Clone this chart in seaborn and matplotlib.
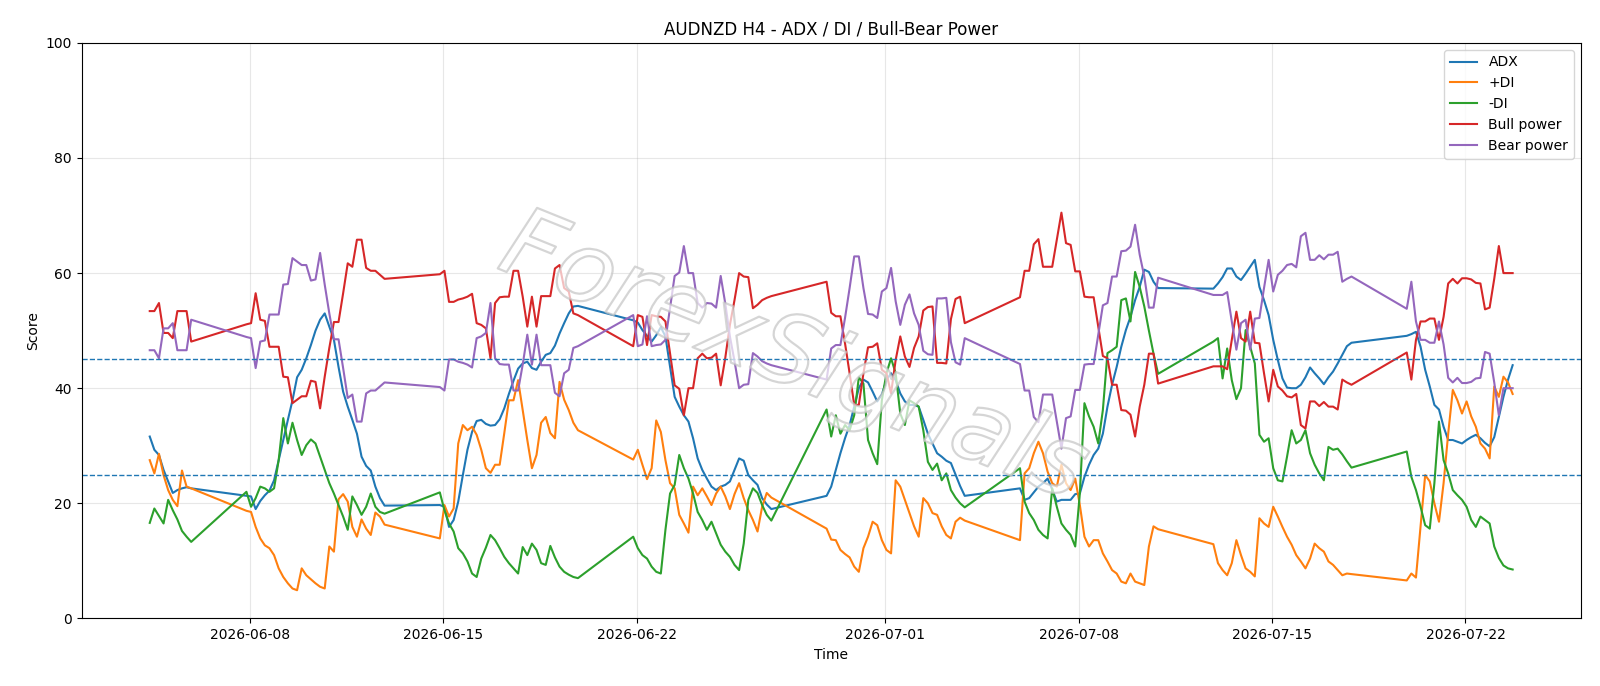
import pandas as pd
import numpy as np
import matplotlib
matplotlib.use("Agg")
import matplotlib.pyplot as plt
import matplotlib.patheffects as pe
import seaborn as sns

# trading sessions (H4 bars, Sunday 21:00 open -> Friday 21:00 close)
SESSIONS = [
    ("2026-06-04 09:00", "2026-06-05 21:00"),
    ("2026-06-07 21:00", "2026-06-12 21:00"),
    ("2026-06-14 21:00", "2026-06-19 21:00"),
    ("2026-06-21 21:00", "2026-06-26 21:00"),
    ("2026-06-28 21:00", "2026-07-03 21:00"),
    ("2026-07-05 21:00", "2026-07-10 21:00"),
    ("2026-07-12 21:00", "2026-07-17 21:00"),
    ("2026-07-19 21:00", "2026-07-23 17:00"),
]

adx = [
    31.6, 29.3, 28.4, 25.8, 23.8, 21.8, 22.3, 22.6, 22.8, 22.6,
    21.3, 21.2, 19.0, 20.4, 21.4, 22.2, 24.0, 27.5, 31.0, 34.5, 37.9, 41.9, 43.2, 45.2, 47.5, 50.0,
    51.9, 53.0, 50.7, 48.4, 43.7, 39.4, 36.8, 34.5, 32.1, 28.1, 26.5, 25.7, 22.9, 20.9, 19.6,
    19.7, 19.4, 15.9, 17.1, 20.3, 24.9, 29.3, 32.4, 34.3, 34.5, 33.8, 33.5, 33.6, 34.6, 36.5, 39.0,
    41.3, 43.4, 44.3, 44.6, 43.5, 43.2, 44.6, 45.8, 46.1, 47.4, 49.5, 51.3, 53.0, 54.2, 54.3,
    51.8, 51.4, 50.1, 49.1, 48.1, 49.2, 50.6, 49.0, 43.7, 38.5, 36.8, 35.3, 34.2, 31.3, 27.8, 25.8,
    24.3, 22.9, 22.3, 22.9, 23.2, 23.8, 25.8, 27.8, 27.4, 24.9, 24.0, 23.2, 20.9, 19.8, 19.0,
    21.3, 22.9, 25.8, 28.7, 31.3, 33.6, 36.8, 40.0, 41.5, 41.0, 39.4, 37.7, 38.9, 41.4, 42.6, 41.4,
    39.1, 37.7, 37.1, 37.1, 36.8, 34.5, 32.1, 30.4, 28.7, 28.1, 27.4, 27.0, 25.0, 23.0, 21.3,
    22.6, 20.6, 20.9, 21.9, 22.9, 23.5, 24.3, 22.4, 20.3, 20.6, 20.6, 20.6, 21.6, 21.7, 24.6, 26.7,
    28.4, 29.5, 32.1, 36.8, 40.6, 43.7, 47.2, 50.1, 52.4, 55.3, 57.6, 60.6, 60.2, 58.5, 57.4,
    57.3, 58.2, 59.3, 60.8, 60.8, 59.4, 58.8, 59.9, 61.1, 62.3, 57.6, 55.3, 52.7, 48.4, 44.9, 41.7,
    40.1, 40.0, 40.0, 40.6, 41.9, 43.6, 42.6, 41.7, 40.7, 41.9, 42.9, 44.3, 45.8, 47.3, 47.9,
    49.1, 49.4, 49.8, 47.2, 43.2, 40.3, 37.1, 36.3, 33.3, 31.0, 31.0, 30.7, 30.4, 31.0, 31.5, 31.9,
    31.3, 30.5, 29.9, 31.5, 35.0, 38.5, 41.5, 44.0,
]

plus_di = [
    27.5, 25.2, 28.6, 24.9, 22.3, 20.6, 19.5, 25.7, 22.9, 22.6,
    18.7, 18.5, 15.9, 13.9, 12.7, 12.2, 11.0, 8.7, 7.2, 6.1, 5.2, 4.9, 8.7, 7.5, 6.8, 6.1,
    5.5, 5.2, 12.5, 11.6, 20.7, 21.6, 20.3, 15.9, 14.2, 17.2, 15.6, 14.5, 18.4, 17.7, 16.3,
    13.9, 19.7, 17.7, 19.1, 30.4, 33.6, 32.7, 33.3, 31.9, 29.3, 26.1, 25.3, 26.7, 26.7, 32.2, 37.9,
    37.9, 41.4, 36.2, 31.0, 26.1, 28.4, 34.0, 35.0, 32.2, 31.3, 41.1, 38.0, 36.2, 34.0, 32.7,
    27.6, 29.3, 26.7, 24.2, 26.1, 34.4, 32.4, 27.5, 23.5, 22.6, 18.0, 16.5, 14.9, 22.9, 21.4, 22.6,
    21.2, 19.7, 21.7, 22.9, 21.2, 19.0, 21.6, 23.5, 20.9, 18.8, 17.1, 15.1, 19.4, 21.8, 21.0,
    15.6, 13.7, 13.6, 11.9, 11.2, 10.6, 9.0, 8.1, 12.2, 14.2, 16.8, 16.2, 13.6, 11.9, 11.3, 24.0,
    22.9, 20.6, 18.3, 16.0, 14.2, 20.9, 20.0, 18.3, 18.0, 16.0, 14.5, 13.9, 16.8, 17.5, 17.0,
    13.6, 25.2, 26.1, 28.7, 30.7, 28.7, 25.5, 23.5, 22.9, 26.7, 23.5, 22.3, 24.3, 19.7, 14.2, 12.5,
    13.6, 13.6, 11.3, 9.9, 8.4, 7.8, 6.4, 6.1, 7.8, 6.4, 6.1, 5.8, 12.5, 16.0, 15.5,
    12.9, 9.6, 8.4, 7.5, 9.6, 13.6, 11.0, 8.7, 8.1, 7.3, 17.4, 16.5, 15.9, 19.4, 17.7, 15.9,
    14.2, 12.8, 11.0, 9.9, 8.7, 10.4, 13.0, 12.2, 11.6, 9.9, 9.3, 8.4, 7.5, 7.8, 7.7,
    6.6, 7.8, 7.1, 15.9, 24.9, 23.8, 20.0, 16.8, 23.5, 32.1, 39.7, 37.9, 35.6, 37.7, 35.1, 33.3,
    30.4, 29.5, 27.8, 40.3, 38.5, 42.0, 41.0, 39.0,
]

minus_di = [
    16.6, 19.1, 17.8, 16.5, 20.6, 18.8, 17.2, 15.2, 14.2, 13.3,
    22.0, 19.4, 20.9, 22.9, 22.6, 22.0, 22.6, 27.5, 34.8, 30.4, 34.0, 31.0, 28.4, 30.1, 31.1, 30.4,
    28.1, 25.8, 23.5, 21.7, 19.7, 17.7, 15.4, 21.2, 19.7, 18.0, 19.4, 21.7, 19.4, 18.5, 18.2,
    21.9, 18.8, 16.5, 15.1, 12.2, 11.3, 9.9, 7.8, 7.2, 10.4, 12.3, 14.5, 13.6, 12.2, 10.7, 9.6,
    8.7, 7.8, 12.4, 11.0, 13.0, 11.9, 9.6, 9.3, 12.6, 10.6, 9.0, 8.1, 7.6, 7.2, 7.0,
    14.2, 12.2, 11.0, 10.4, 9.0, 8.1, 7.8, 15.4, 21.7, 23.2, 28.4, 26.1, 24.3, 21.7, 18.5, 17.1,
    15.4, 16.8, 14.8, 12.8, 11.6, 10.7, 9.3, 8.4, 13.0, 20.6, 22.6, 21.8, 19.7, 18.0, 17.0,
    36.3, 31.6, 35.3, 32.1, 33.6, 32.7, 35.3, 41.9, 40.8, 31.0, 28.7, 26.8, 37.9, 42.6, 45.2, 42.6,
    35.6, 33.6, 37.9, 37.4, 36.8, 32.7, 27.2, 25.8, 26.9, 24.0, 25.2, 22.3, 21.0, 20.0, 19.3,
    26.1, 20.3, 18.3, 17.1, 15.4, 14.5, 13.9, 22.6, 19.4, 16.5, 15.4, 14.5, 12.5, 21.7, 37.4, 35.1,
    33.3, 30.4, 36.2, 46.1, 46.6, 47.2, 55.3, 55.6, 51.6, 60.2, 57.6, 54.2, 50.0, 46.0, 42.5,
    48.1, 48.7, 41.7, 46.9, 41.4, 38.1, 40.0, 50.1, 47.2, 44.3, 31.9, 30.7, 31.3, 26.1, 24.0, 23.8,
    28.1, 32.7, 30.4, 31.0, 32.7, 28.7, 26.7, 25.2, 24.0, 29.8, 29.3, 29.5, 28.5, 27.3, 26.2,
    29.0, 24.6, 22.3, 19.4, 16.2, 15.6, 23.5, 34.2, 27.5, 25.2, 22.3, 21.4, 20.6, 19.4, 17.1, 15.9,
    17.7, 17.1, 16.5, 12.5, 10.5, 9.2, 8.7, 8.5,
]

bull_power = [
    53.4, 53.4, 54.8, 49.6, 49.6, 48.7, 53.4, 53.4, 53.4, 48.1,
    51.1, 51.3, 56.5, 51.9, 51.7, 47.2, 47.2, 47.2, 42.0, 41.9, 37.4, 38.0, 38.6, 38.6, 41.3, 41.1,
    36.5, 42.0, 47.0, 51.5, 51.5, 56.5, 61.7, 61.1, 65.8, 65.8, 60.9, 60.4, 60.4, 59.7, 59.0,
    59.8, 60.4, 55.0, 55.0, 55.4, 55.6, 55.9, 56.4, 51.3, 51.0, 50.4, 45.2, 54.8, 55.8, 55.9, 55.9,
    60.4, 60.4, 55.9, 50.7, 55.9, 50.7, 56.0, 56.0, 56.0, 60.8, 61.4, 57.4, 56.8, 53.0, 52.7,
    47.3, 52.7, 52.4, 47.5, 52.7, 52.5, 52.4, 51.6, 46.0, 40.5, 39.9, 35.3, 40.0, 40.0, 45.2, 46.0,
    45.2, 45.3, 46.0, 40.5, 45.3, 51.0, 55.3, 60.0, 59.4, 59.3, 53.9, 54.5, 55.3, 55.7, 56.0,
    58.5, 53.1, 52.5, 52.5, 47.8, 42.6, 37.1, 37.1, 42.6, 47.1, 47.2, 47.8, 43.2, 42.6, 39.1, 44.9,
    49.0, 45.5, 43.7, 47.0, 49.0, 53.5, 54.1, 54.2, 44.4, 44.4, 44.3, 52.0, 55.5, 55.9, 51.3,
    55.8, 60.4, 60.4, 65.0, 65.9, 61.1, 61.1, 61.1, 65.8, 70.5, 65.2, 64.9, 60.3, 60.3, 55.9, 55.8,
    55.8, 50.7, 45.6, 45.2, 40.6, 40.6, 36.2, 36.1, 35.4, 31.6, 36.8, 40.6, 46.0, 46.0, 40.8,
    43.8, 43.8, 43.8, 43.3, 48.4, 53.3, 48.7, 48.1, 53.3, 47.9, 47.8, 42.6, 37.7, 43.2, 40.3, 39.6,
    38.6, 38.4, 39.0, 33.6, 33.0, 37.7, 37.7, 36.9, 37.6, 36.8, 36.8, 36.3, 41.5, 41.0, 40.6,
    46.2, 41.5, 48.4, 51.6, 51.6, 52.1, 52.1, 48.4, 52.4, 58.2, 59.0, 58.2, 59.1, 59.1, 58.9, 58.3,
    58.2, 53.7, 54.0, 59.0, 64.7, 60.0, 60.0, 60.0,
]

bear_power = [
    46.6, 46.6, 45.2, 50.4, 50.4, 51.3, 46.6, 46.6, 46.6, 51.9,
    48.9, 48.7, 43.5, 48.1, 48.3, 52.8, 52.8, 52.8, 58.0, 58.1, 62.6, 62.0, 61.4, 61.4, 58.7, 58.9,
    63.5, 58.0, 53.0, 48.5, 48.5, 43.5, 38.3, 38.9, 34.2, 34.2, 39.1, 39.6, 39.6, 40.3, 41.0,
    40.2, 39.6, 45.0, 45.0, 44.6, 44.4, 44.1, 43.6, 48.7, 49.0, 49.6, 54.8, 45.2, 44.2, 44.1, 44.1,
    39.6, 39.6, 44.1, 49.3, 44.1, 49.3, 44.0, 44.0, 44.0, 39.2, 38.6, 42.6, 43.2, 47.0, 47.3,
    52.7, 47.3, 47.6, 52.5, 47.3, 47.5, 47.6, 48.4, 54.0, 59.5, 60.1, 64.7, 60.0, 60.0, 54.8, 54.0,
    54.8, 54.7, 54.0, 59.5, 54.7, 49.0, 44.7, 40.0, 40.6, 40.7, 46.1, 45.5, 44.7, 44.3, 44.0,
    41.5, 46.9, 47.5, 47.5, 52.2, 57.4, 62.9, 62.9, 57.4, 52.9, 52.8, 52.2, 56.8, 57.4, 60.9, 55.1,
    51.0, 54.5, 56.3, 53.0, 51.0, 46.5, 45.9, 45.8, 55.6, 55.6, 55.7, 48.0, 44.5, 44.1, 48.7,
    44.2, 39.6, 39.6, 35.0, 34.1, 38.9, 38.9, 38.9, 34.2, 29.5, 34.8, 35.1, 39.7, 39.7, 44.1, 44.2,
    44.2, 49.3, 54.4, 54.8, 59.4, 59.4, 63.8, 63.9, 64.6, 68.4, 63.2, 59.4, 54.0, 54.0, 59.2,
    56.2, 56.2, 56.2, 56.7, 51.6, 46.7, 51.3, 51.9, 46.7, 52.1, 52.2, 57.4, 62.3, 56.8, 59.7, 60.4,
    61.4, 61.6, 61.0, 66.4, 67.0, 62.3, 62.3, 63.1, 62.4, 63.2, 63.2, 63.7, 58.5, 59.0, 59.4,
    53.8, 58.5, 51.6, 48.4, 48.4, 47.9, 47.9, 51.6, 47.6, 41.8, 41.0, 41.8, 40.9, 40.9, 41.1, 41.7,
    41.8, 46.3, 46.0, 41.0, 35.3, 40.0, 40.0, 40.0,
]

SERIES = [
    ("ADX", adx),
    ("+DI", plus_di),
    ("-DI", minus_di),
    ("Bull power", bull_power),
    ("Bear power", bear_power),
]
COLORS = ["#1f77b4", "#ff7f0e", "#2ca02c", "#d62728", "#9467bd"]

times = pd.DatetimeIndex(np.concatenate(
    [pd.date_range(a, b, freq="4h").values for a, b in SESSIONS]))

fig, ax = plt.subplots(figsize=(16, 6.86), dpi=100)
fig.subplots_adjust(left=0.051, right=0.988, top=0.9375, bottom=0.0985)

for (name, vals), col in zip(SERIES, COLORS):
    df = pd.DataFrame({"Time": times, "Score": vals})
    sns.lineplot(data=df, x="Time", y="Score", ax=ax, color=col,
                 label=name, linewidth=1.5, estimator=None, sort=False)

ax.axhline(25, color="#1f77b4", linestyle="--", linewidth=1)
ax.axhline(45, color="#1f77b4", linestyle="--", linewidth=1)

ax.set_ylim(0, 100)
ax.set_title("AUDNZD H4 - ADX / DI / Bull-Bear Power", fontsize=12)
ax.set_xlabel("Time")
ax.set_ylabel("Score")
ax.grid(True, alpha=0.3)
ax.legend(loc="upper right")

# watermark
ax.text(0.475, 0.45, "ForexSignals", transform=ax.transAxes,
        fontsize=70, rotation=-22, ha="center", va="center",
        color="white", alpha=0.0, fontstyle="italic", zorder=10,
        path_effects=[pe.withStroke(linewidth=1.6, foreground="#c4c4c4", alpha=0.7)])

fig.savefig("out.png", dpi=100)
plt.close(fig)
